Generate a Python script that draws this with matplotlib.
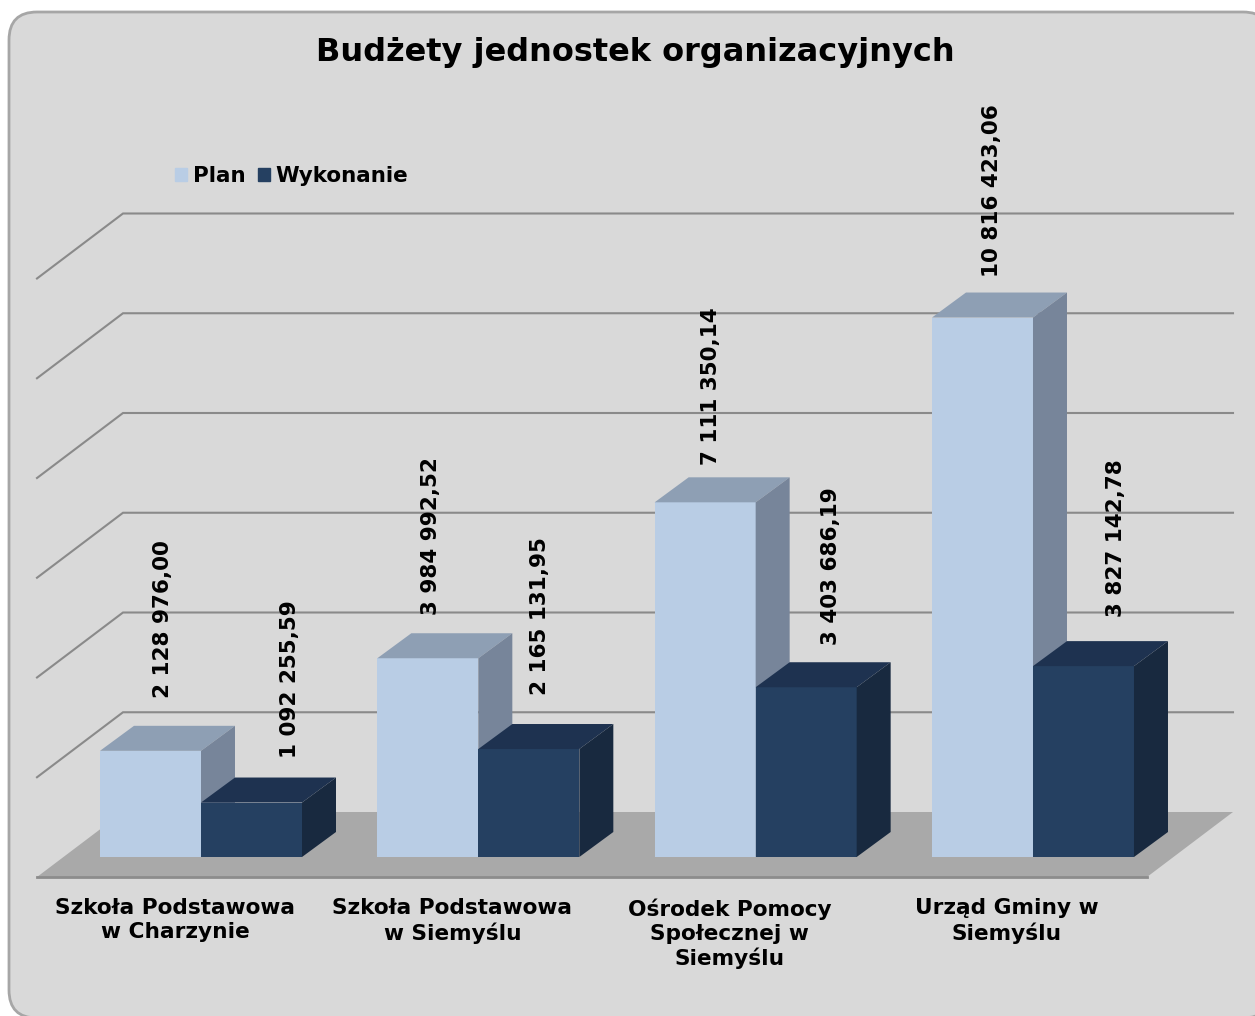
import matplotlib
matplotlib.use("Agg")
import matplotlib.pyplot as plt
from matplotlib.patches import FancyBboxPatch, Patch
from matplotlib.transforms import IdentityTransform

title = "Budżety jednostek organizacyjnych"
categories = ["Szkoła Podstawowa\nw Charzynie", "Szkoła Podstawowa\nw Siemyślu",
              "Ośrodek Pomocy\nSpołecznej w\nSiemyślu", "Urząd Gminy w\nSiemyślu"]
plan = [2128976.00, 3984992.52, 7111350.14, 10816423.06]
wykonanie = [1092255.59, 2165131.95, 3403686.19, 3827142.78]
plan_labels = ["2 128 976,00", "3 984 992,52", "7 111 350,14", "10 816 423,06"]
wykonanie_labels = ["1 092 255,59", "2 165 131,95", "3 403 686,19", "3 827 142,78"]
grid_values = [2000000, 4000000, 6000000, 8000000, 10000000, 12000000]

# layout, in data units (1 category = 277.33 px, 1 000 000 = ~50 px)
W, H = 1255, 1016
PX_X = 1 / 277.33
PX_Y = 20050
BAR_W = 101 * PX_X
DEPTH_X, DEPTH_Y = 34 * PX_X, 25 * PX_Y
FLOOR_Y = -20 * PX_Y
WALL_X, WALL_Y = 86 * PX_X, 65 * PX_Y
FLOOR_LEFT, FLOOR_RIGHT = -164 * PX_X, 946 * PX_X

# label tweaks, px
plan_dx = [-38, -47, -45, -41]
wyk_dx = [38.5, 11.5, 24.5, 32.5]
plan_gap = [53, 43, 37, 41]
wyk_gap = [45, 54, 42, 49]

fig = plt.figure(figsize=(W / 100, H / 100), dpi=100, facecolor="white")
ax = fig.add_axes([0, 0, 1, 1])
ax.set_xlim(-201 * PX_X, (W - 201) * PX_X)
ax.set_ylim(-(H - 857) * PX_Y, 857 * PX_Y)
ax.axis("off")

ax.add_patch(FancyBboxPatch((9, H - 1018), 1262, 1006,
                            boxstyle="round,pad=0,rounding_size=28",
                            fc="#D9D9D9", ec="#A6A6A6", lw=2,
                            transform=IdentityTransform(), zorder=0))


def box(x, value, front, top, side):
    ax.bar(x, value, BAR_W, align="edge", color=front, zorder=3)
    ax.fill([x, x + BAR_W, x + BAR_W + DEPTH_X, x + DEPTH_X],
            [value, value, value + DEPTH_Y, value + DEPTH_Y], color=top, lw=0, zorder=3)
    ax.fill([x + BAR_W, x + BAR_W + DEPTH_X, x + BAR_W + DEPTH_X, x + BAR_W],
            [0, DEPTH_Y, value + DEPTH_Y, value], color=side, lw=0, zorder=3)


# floor
back_y = FLOOR_Y + WALL_Y
ax.fill([FLOOR_LEFT, FLOOR_RIGHT, FLOOR_RIGHT + WALL_X, FLOOR_LEFT + WALL_X],
        [FLOOR_Y, FLOOR_Y, back_y, back_y], color="#A9A9A9", lw=0, zorder=1)
ax.plot([FLOOR_LEFT, FLOOR_RIGHT], [FLOOR_Y, FLOOR_Y], color="#8C8C8C", lw=2, zorder=2)

# wall grid
for v in grid_values:
    ax.plot([FLOOR_LEFT, FLOOR_LEFT + WALL_X, FLOOR_RIGHT + WALL_X],
            [v + FLOOR_Y, v + back_y, v + back_y],
            color="#8A8A8A", lw=1.5, zorder=2, solid_joinstyle="miter")

for i in range(len(categories)):
    box(i - BAR_W, plan[i], "#B9CDE5", "#8E9FB4", "#77859A")
    box(i, wykonanie[i], "#254061", "#1E3250", "#18293F")

    ax.text(i + plan_dx[i] * PX_X, plan[i] + plan_gap[i] * PX_Y, plan_labels[i],
            rotation=90, ha="center", va="bottom", fontsize=15.5, fontweight="bold", zorder=5)
    ax.text(i + BAR_W / 2 + wyk_dx[i] * PX_X, wykonanie[i] + wyk_gap[i] * PX_Y, wykonanie_labels[i],
            rotation=90, ha="center", va="bottom", fontsize=15.5, fontweight="bold", zorder=5)
    ax.text(i - 26 * PX_X, -41 * PX_Y, categories[i], ha="center", va="top",
            fontsize=15.6, fontweight="bold", linespacing=1.25, zorder=5)

ax.text(635 / W, 1 - 53 / H, title, transform=ax.transAxes, ha="center", va="center",
        fontsize=23, fontweight="bold", zorder=5)

handles = [Patch(color="#B9CDE5", label="Plan"), Patch(color="#254061", label="Wykonanie")]
ax.legend(handles=handles, loc="center left", bbox_to_anchor=(175 / W, 1 - 176 / H), ncol=2,
          frameon=False, prop={"size": 15.5, "weight": "bold"}, handlelength=0.56, handleheight=0.56,
          handletextpad=0.28, columnspacing=0.55, borderpad=0, borderaxespad=0)

fig.savefig("out.png", dpi=100)
